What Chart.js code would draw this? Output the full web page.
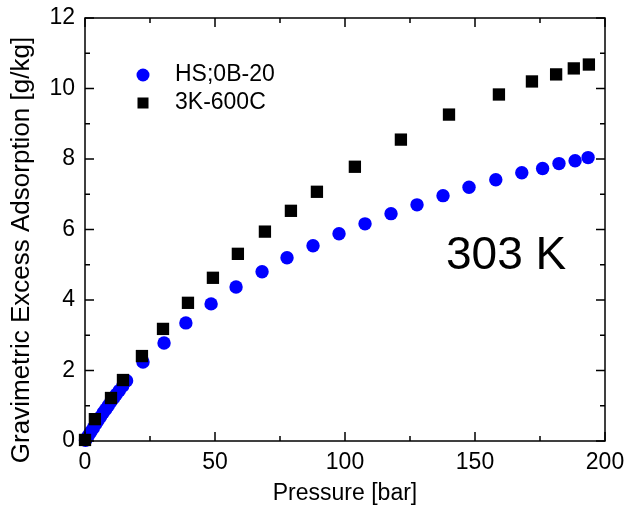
<!DOCTYPE html>
<html>
<head>
<meta charset="utf-8">
<script src="https://cdn.jsdelivr.net/npm/chart.js@4"></script>
<style>
  html, body { margin: 0; padding: 0; background: #fff; }
  #wrap { width: 626px; height: 518px; }
</style>
</head>
<body>
<div id="wrap"><canvas id="adsChart" width="626" height="518"></canvas></div>
<script>
// pressure [bar] and excess adsorption [g/kg]
const hsPressure = [0.2, 0.8, 1.5, 2.3, 3.2, 4.1, 5, 6, 7, 8, 9, 10, 11, 12, 13.2, 14.5, 16,
  22.3, 30.4, 38.8, 48.5, 58.1, 68.1, 77.7, 87.7, 97.7, 107.7, 117.7, 127.7, 137.7, 147.7,
  158, 168, 176, 182.3, 188.5, 193.5];
const hsUptake = [0.02, 0.1, 0.18, 0.27, 0.37, 0.48, 0.58, 0.69, 0.8, 0.9, 1.01, 1.12, 1.22, 1.32, 1.43, 1.56, 1.71,
  2.24, 2.78, 3.35, 3.89, 4.37, 4.8, 5.2, 5.54, 5.88, 6.16, 6.45, 6.7, 6.96, 7.2,
  7.41, 7.61, 7.73, 7.87, 7.95, 8.04];

const kPressure = [0, 3.8, 10, 14.6, 21.9, 30, 39.6, 49.2, 58.8, 69.2, 79.2, 89.2, 103.8,
  121.5, 140, 159.2, 171.9, 181.2, 188, 193.8];
const kUptake = [0.03, 0.62, 1.22, 1.73, 2.41, 3.18, 3.92, 4.63, 5.31, 5.94, 6.53, 7.07, 7.78,
  8.55, 9.26, 9.83, 10.2, 10.4, 10.57, 10.68];

const seriesNames = ['HS;0B-20', '3K-600C'];
const xTicks = [0, 50, 100, 150, 200];
const yTicks = [0, 2, 4, 6, 8, 10, 12];
const yTitle = 'Gravimetric Excess Adsorption [g/kg]';

const toXY = (xs, ys) => xs.map((x, i) => ({ x: x, y: ys[i] }));
const FONT = '"Liberation Sans", Arial, sans-serif';

// frame with inward ticks on all four sides, legend, y title and temperature label
const framePlugin = {
  id: 'frame',
  afterDatasetsDraw(chart) {
    const { ctx, chartArea: a, scales: { x, y } } = chart;
    ctx.save();
    ctx.strokeStyle = '#000';
    ctx.lineWidth = 1.5;
    ctx.strokeRect(a.left, a.top, a.right - a.left, a.bottom - a.top);
    ctx.beginPath();
    for (let v = 0; v <= 200; v += 25) {
      const px = x.getPixelForValue(v);
      const len = v % 50 === 0 ? 9 : 5;
      ctx.moveTo(px, a.bottom); ctx.lineTo(px, a.bottom - len);
      ctx.moveTo(px, a.top); ctx.lineTo(px, a.top + len);
    }
    for (let v = 0; v <= 12; v += 1) {
      const py = y.getPixelForValue(v);
      const len = v % 2 === 0 ? 9 : 5;
      ctx.moveTo(a.left, py); ctx.lineTo(a.left + len, py);
      ctx.moveTo(a.right, py); ctx.lineTo(a.right - len, py);
    }
    ctx.stroke();

    // legend
    ctx.textBaseline = 'middle';
    ctx.fillStyle = '#0000ff';
    ctx.beginPath();
    ctx.arc(143, 75, 6.5, 0, Math.PI * 2);
    ctx.fill();
    ctx.fillStyle = '#000';
    ctx.fillRect(137.5, 97.5, 11, 11);
    ctx.font = '23px ' + FONT;
    ctx.fillText(seriesNames[0], 175, 75);
    ctx.fillText(seriesNames[1], 175, 103);

    ctx.font = '46px ' + FONT;
    ctx.fillText('303 K', 446, 256);

    // y axis title
    ctx.translate(22, 250);
    ctx.rotate(-Math.PI / 2);
    ctx.textAlign = 'center';
    ctx.font = '26px ' + FONT;
    ctx.fillText(yTitle, 0, 0);
    ctx.restore();
  }
};

const ctx = document.getElementById('adsChart').getContext('2d');
Chart.defaults.font.family = "'Liberation Sans', Arial, sans-serif";
Chart.defaults.color = '#000';

const adsChart = new Chart(ctx, {
  type: 'scatter',
  data: {
    datasets: [{
      label: seriesNames[0],
      data: toXY(hsPressure, hsUptake),
      pointStyle: 'circle',
      pointRadius: 6.7,
      pointHoverRadius: 6.7,
      backgroundColor: '#0000ff',
      borderWidth: 0,
      clip: false,
      order: 1
    }, {
      label: seriesNames[1],
      data: toXY(kPressure, kUptake),
      pointStyle: 'rect',
      pointRadius: 8.7,
      pointHoverRadius: 8.7,
      backgroundColor: '#000',
      borderWidth: 0,
      clip: false,
      order: 0
    }]
  },
  options: {
    responsive: false,
    animation: false,
    layout: { padding: { top: 18, right: 21, left: 0, bottom: 0 } },
    plugins: {
      legend: { display: false },
      tooltip: { enabled: false }
    },
    scales: {
      x: {
        type: 'linear',
        min: 0,
        max: 200,
        afterBuildTicks: s => { s.ticks = xTicks.map(v => ({ value: v })); },
        afterFit: s => { s.height = 77; s.paddingLeft = 0; s.paddingRight = 0; },
        grid: { display: false, drawTicks: false },
        border: { display: false },
        ticks: { font: { size: 23 }, padding: 8, maxRotation: 0 },
        title: { display: true, text: 'Pressure [bar]', font: { size: 23 }, padding: { top: 0, bottom: 11 } }
      },
      y: {
        type: 'linear',
        min: 0,
        max: 12,
        afterBuildTicks: s => { s.ticks = yTicks.map(v => ({ value: v })); },
        afterFit: s => { s.width = 85; s.paddingTop = 0; s.paddingBottom = 0; },
        grid: { display: false, drawTicks: false },
        border: { display: false },
        ticks: { font: { size: 23 }, padding: 10 }
      }
    }
  },
  plugins: [framePlugin]
});
</script>
</body>
</html>
